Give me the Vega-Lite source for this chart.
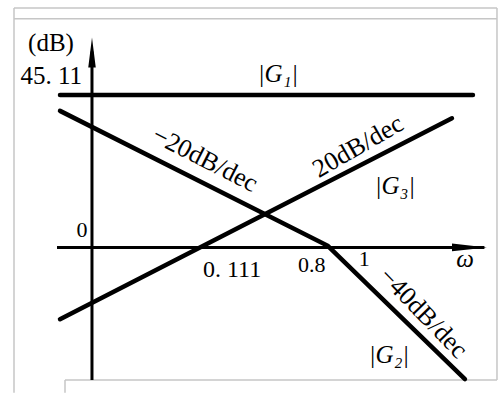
{
  "$schema": "https://vega.github.io/schema/vega-lite/v6.json",
  "width": 501,
  "height": 394,
  "autosize": {"type": "fit", "contains": "padding"},
  "padding": 0,
  "background": "white",
  "config": {"view": {"stroke": null}, "text": {"font": "Liberation Serif", "color": "black"}},
  "encoding": {
    "x": {"field": "w", "type": "quantitative", "scale": {"type": "log", "domain": [0.005047, 11.63], "nice": false}, "axis": null},
    "y": {"field": "db", "type": "quantitative", "scale": {"domain": [-42.18, 73.23], "nice": false, "zero": false}, "axis": null}
  },
  "layer": [
    {
      "data": {"values": [
        {"w": 0.006266, "w2": 0.006266, "db": -43, "db2": 70.88},
        {"w": 0.006266, "w2": 10.93, "db": 70.88, "db2": 70.88},
        {"w": 0.006266, "w2": 10.93, "db": 67.66, "db2": 67.66},
        {"w": 10.93, "w2": 10.93, "db": -39.25, "db2": 70.88},
        {"w": 0.01378, "w2": 10.93, "db": -39.25, "db2": -39.25},
        {"w": 0.01378, "w2": 0.01378, "db": -43, "db2": -39.25}
      ]},
      "mark": {"type": "rule", "color": "#c6c6c6", "strokeWidth": 1.5},
      "encoding": {"x2": {"field": "w2"}, "y2": {"field": "db2"}}
    },
    {
      "data": {"values": [
        {"w": 0.02091, "w2": 0.02091, "db": -39.25, "db2": 58},
        {"w": 0.01218, "w2": 9.0, "db": 0, "db2": 0}
      ]},
      "mark": {"type": "rule", "color": "black", "strokeWidth": 3},
      "encoding": {"x2": {"field": "w2"}, "y2": {"field": "db2"}}
    },
    {
      "data": {"values": [{"w": 0.02091, "db": 62.1}]},
      "mark": {"type": "point", "shape": "M0,0L-0.25,2L0.25,2Z", "size": 900, "filled": true, "color": "black", "opacity": 1}
    },
    {
      "data": {"values": [{"w": 9.37, "db": 0}]},
      "mark": {"type": "point", "shape": "M0,0L-2,-0.22L-2,0.22Z", "size": 1225, "filled": true, "color": "black", "opacity": 1}
    },
    {
      "data": {"values": [
        {"series": "G1", "w": 0.01276, "db": 45.11},
        {"series": "G1", "w": 7.54, "db": 45.11},
        {"series": "G2", "w": 0.01276, "db": 40.42},
        {"series": "G2", "w": 0.8, "db": 0.5},
        {"series": "G2", "w": 6.66, "db": -38.96},
        {"series": "G3", "w": 0.01276, "db": -21.24},
        {"series": "G3", "w": 5.45, "db": 38.22}
      ]},
      "mark": {"type": "line", "color": "black", "strokeWidth": 4.5, "strokeCap": "round", "strokeJoin": "miter"},
      "encoding": {"detail": {"field": "series"}}
    },
    {
      "data": {"values": [{"w": 0.0111, "db": 60.63, "label": "(dB)"}]},
      "mark": {"type": "text", "fontSize": 25, "align": "center", "baseline": "middle"},
      "encoding": {"text": {"field": "label"}}
    },
    {
      "data": {"values": [
        {"w": 6.665, "db": -3.51, "label": "ω"},
        {"w": 0.3705, "db": 51.26, "label": "|G₁|"},
        {"w": 2.259, "db": 18.16, "label": "|G₃|"},
        {"w": 2.059, "db": -31.93, "label": "|G₂|"}
      ]},
      "mark": {"type": "text", "fontSize": 25, "fontStyle": "italic", "align": "center", "baseline": "middle"},
      "encoding": {"text": {"field": "label"}}
    },
    {
      "data": {"values": [{"w": 0.02091, "db": 45.11, "label": "45. 11"}]},
      "mark": {"type": "text", "fontSize": 25, "align": "right", "baseline": "middle", "dx": -10, "dy": -19},
      "encoding": {"text": {"field": "label"}}
    },
    {
      "data": {"values": [{"w": 0.02091, "db": 0, "label": "0"}]},
      "mark": {"type": "text", "fontSize": 22, "align": "center", "baseline": "middle", "dx": -10, "dy": -17},
      "encoding": {"text": {"field": "label"}}
    },
    {
      "data": {"values": [{"w": 0.111, "db": 0, "label": "0. 111"}]},
      "mark": {"type": "text", "fontSize": 24, "align": "left", "baseline": "middle", "dx": 3, "dy": 23},
      "encoding": {"text": {"field": "label"}}
    },
    {
      "data": {"values": [{"w": 0.8, "db": 0, "label": "0.8"}]},
      "mark": {"type": "text", "fontSize": 22, "align": "center", "baseline": "middle", "dx": -16, "dy": 18},
      "encoding": {"text": {"field": "label"}}
    },
    {
      "data": {"values": [{"w": 1, "db": 0, "label": "1"}]},
      "mark": {"type": "text", "fontSize": 22, "align": "center", "baseline": "middle", "dx": 22, "dy": 12},
      "encoding": {"text": {"field": "label"}}
    },
    {
      "data": {"values": [{"w": 0.1199, "db": 26.07, "label": "−20dB/dec"}]},
      "mark": {"type": "text", "fontSize": 26, "angle": 27, "align": "center", "baseline": "middle"},
      "encoding": {"text": {"field": "label"}}
    },
    {
      "data": {"values": [{"w": 1.276, "db": 29.88, "label": "20dB/dec"}]},
      "mark": {"type": "text", "fontSize": 26, "angle": -30, "align": "center", "baseline": "middle"},
      "encoding": {"text": {"field": "label"}}
    },
    {
      "data": {"values": [{"w": 3.5, "db": -19.4, "label": "−40dB/dec"}]},
      "mark": {"type": "text", "fontSize": 26, "angle": 46, "align": "center", "baseline": "middle"},
      "encoding": {"text": {"field": "label"}}
    }
  ]
}
